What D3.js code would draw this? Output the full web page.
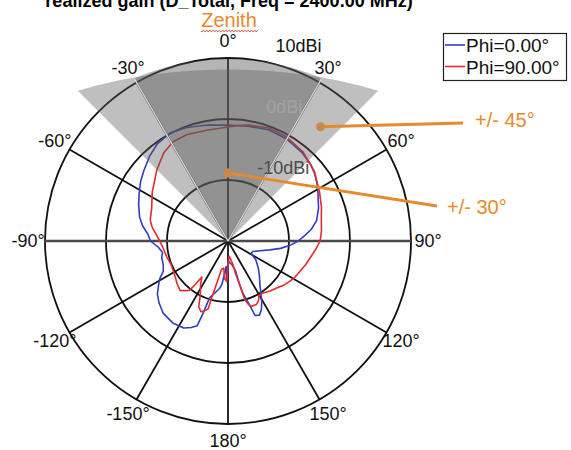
<!DOCTYPE html>
<html><head><meta charset="utf-8">
<script src="https://cdn.jsdelivr.net/npm/d3@7"></script>
<style>html,body{margin:0;padding:0;background:#fff;}svg{display:block;font-family:"Liberation Sans",Arial,sans-serif;}</style>
</head><body><div id="chart"></div>
<script>
// ---- data ----
const titleText = "realized gain (D_Total, Freq = 2400.00 MHz)";
const seriesNames = ["Phi=0.00°", "Phi=90.00°"];
const seriesColors = ["#2f3fc0", "#e52a2e"];
const ringValues = [-10, 0, 10];
const ringLabels = ["-10dBi", "0dBi", "10dBi"];
const angleTicks = [0, 30, 60, 90, 120, 150, 180, -150, -120, -90, -60, -30];
const angleLabels = ["0°","30°","60°","90°","120°","150°","180°","-150°","-120°","-90°","-60°","-30°"];

const thetaBlue = [-180,-178,-176,-172,-170,-165,-162,-161,-160,-157,-153,-146,-138,-132,-127,-122,-119,-115,-110,-104,-100,-95,-90,-85,-80,-75,-68,-62,-56,-50,-43,-36,-28,-20,-10,0,10,20,30,40,47,52,57,62,70,77,82,86,90,94,98,102,107,113,118,124,132,138,144,148,151,154,157,160,161,162,164,165,166,170,175,180];
const gainBlue  = [-16.8,-13.5,-15.8,-12.8,-12.1,-11.0,-10.2,-7.5,-5.2,-4.6,-4.0,-3.8,-4.1,-4.8,-5.5,-6.6,-7.2,-8.3,-8.7,-8.8,-9.1,-8.5,-7.3,-6.8,-5.8,-5.0,-4.2,-3.5,-2.7,-2.0,-1.1,-0.3,0.1,-0.2,-0.7,-1.0,-0.9,-0.6,-0.7,-1.1,-1.5,-2.0,-2.6,-3.3,-4.2,-5.1,-6.2,-7.4,-8.5,-9.8,-11.3,-13.0,-14.5,-15.6,-15.7,-14.5,-13.3,-12.3,-11.1,-9.8,-8.6,-7.5,-6.8,-7.0,-8.5,-9.6,-11.0,-12.5,-15.0,-16.0,-16.4,-16.8];

const thetaRed = [-180,-178.5,-175,-171,-167,-165,-164,-163.7,-161,-159,-156,-153,-148,-144,-143,-142,-136,-130,-125,-118,-112,-104,-96,-90,-85,-80,-75,-67,-57,-45,-36,-29,-21,-11,-5,0,5,10,20,29,40,51,62,70,77,84,90,95,100,107,113,118,123,128,134,140,146,150,153,156,160,162,164,165,167,168,172,176,180];
const gainRed  = [-16.0,-13.3,-13.8,-15.5,-15.2,-12.6,-10.2,-8.4,-7.8,-7.6,-8.2,-10.0,-11.5,-12.7,-11.0,-9.7,-8.7,-9.1,-9.5,-9.8,-9.9,-9.6,-9.3,-8.8,-8.2,-7.4,-6.8,-6.4,-5.2,-3.5,-2.1,-1.4,-1.3,-1.5,-1.5,-1.3,-1.0,-0.7,-0.3,-0.4,-0.9,-1.8,-3.0,-3.7,-4.3,-4.6,-4.9,-5.5,-6.1,-6.7,-7.2,-7.5,-7.9,-8.3,-8.9,-9.3,-9.7,-9.8,-9.0,-8.6,-8.6,-9.0,-10.0,-12.5,-14.5,-16.0,-17.0,-17.5,-16.0];

// annotation sectors (half-angle in degrees)
const sectorOuter = 45, sectorInner = 30;
const annot45 = {label: "+/- 45°", theta: 39, gain: 4.1};
const annot30 = {label: "+/- 30°", theta: 0, gain: -8.85};

// ---- layout ----
const W = 571, H = 450, cx = 228, cy = 241, R = 183;
const svg = d3.select("#chart").append("svg").attr("width", W).attr("height", H);
svg.append("rect").attr("width", W).attr("height", H).attr("fill", "#fff");
const rScale = d3.scaleLinear().domain([-20, 10]).range([0, R]);
const rad = d => d * Math.PI / 180;
const px = (t, r) => cx + r * Math.sin(rad(t));
const py = (t, r) => cy - r * Math.cos(rad(t));
const g = svg.append("g").attr("transform", `translate(${cx},${cy})`);

// rings
g.selectAll("circle.ring").data(ringValues).join("circle")
  .attr("r", d => rScale(d)).attr("fill", "none").attr("stroke", "#111").attr("stroke-width", 1.8);
// spokes
g.selectAll("line.spoke").data(angleTicks.filter(a => a !== 90 && a !== -90)).join("line")
  .attr("x1", 0).attr("y1", 0)
  .attr("x2", d => R * Math.sin(rad(d))).attr("y2", d => -R * Math.cos(rad(d)))
  .attr("stroke", "#111").attr("stroke-width", 1.8);
g.append("line").attr("x1", -R).attr("x2", R).attr("y1", 0).attr("y2", 0)
  .attr("stroke", "#4a4a4a").attr("stroke-width", 2.6);

// curves
const radial = d3.lineRadial().curve(d3.curveLinear);
[[thetaBlue, gainBlue], [thetaRed, gainRed]].forEach(([th, gn], i) => {
  const pts = th.map((t, k) => [rad(t), rScale(gn[k])]);
  g.append("path").attr("d", radial(pts)).attr("fill", "none")
    .attr("stroke", seriesColors[i]).attr("stroke-width", 1.6).attr("stroke-linejoin", "round");
});

// elliptical sector generator
function sectorPath(half, a, b) {
  const pts = [[0, 0]];
  d3.range(-half, half + 0.01, 1).forEach(t => {
    const s = Math.sin(rad(t)), c = Math.cos(rad(t));
    const r = 1 / Math.sqrt(s * s / (a * a) + c * c / (b * b));
    pts.push([r * s, -r * c]);
  });
  return d3.line()(pts) + "Z";
}
// light sector
g.append("path").attr("d", sectorPath(sectorOuter, R * 1.70, R * 0.937))
  .attr("fill", "#5f5f5f").attr("fill-opacity", 0.4);

// orange annotations
const orange = "#e8892c";
function annotation(a, tx, ty, lx, ly) {
  const x0 = px(a.theta, rScale(a.gain)), y0 = py(a.theta, rScale(a.gain));
  svg.append("line").attr("x1", x0).attr("y1", y0).attr("x2", lx).attr("y2", ly)
    .attr("stroke", orange).attr("stroke-width", 2.8);
  svg.append("circle").attr("cx", x0).attr("cy", y0).attr("r", 4.5).attr("fill", "#c98a48");
}
annotation(annot45, 0, 0, 463, 123);
annotation(annot30, 0, 0, 437, 206);

// dark sector
g.append("path").attr("d", sectorPath(sectorInner, R * 1.13, R * 0.995))
  .attr("fill", "#5a5a5a").attr("fill-opacity", 0.45);
[-sectorInner, sectorInner].forEach(t => {
  const s = Math.sin(rad(t)), c = Math.cos(rad(t));
  const a = R * 1.13, b = R * 0.995;
  const r = 1 / Math.sqrt(s * s / (a * a) + c * c / (b * b));
  g.append("line").attr("x1", 0).attr("y1", 0).attr("x2", r * s).attr("y2", -r * c)
    .attr("stroke", "#d8d8d8").attr("stroke-width", 1.4);
});

// annotation texts
svg.append("text").attr("x", 475).attr("y", 127).text(annot45.label)
  .attr("fill", orange).attr("font-size", 20);
svg.append("text").attr("x", 447).attr("y", 214).text(annot30.label)
  .attr("fill", orange).attr("font-size", 20);

// ring labels
const ringLabelColors = ["#4d4d4d", "#a3a3a3", "#111"];
ringValues.forEach((v, i) => {
  svg.append("text").attr("x", cx + rScale(v) * 0.15 + 20).attr("y", cy - rScale(v) - 6)
    .text(ringLabels[i]).attr("fill", ringLabelColors[i]).attr("font-size", 18);
});

// angle labels
svg.selectAll("text.ang").data(angleTicks).join("text")
  .attr("x", d => px(d, R + 17)).attr("y", d => py(d, R + 17))
  .attr("text-anchor", "middle").attr("dominant-baseline", "central")
  .attr("font-size", 18).attr("fill", "#111")
  .text((d, i) => angleLabels[i]);

// title (cropped at top)
svg.append("text").attr("x", 229).attr("y", 7).attr("text-anchor", "middle")
  .attr("font-weight", "bold").attr("font-size", 18).text(titleText);

// Zenith
svg.append("text").attr("x", 229).attr("y", 27).attr("text-anchor", "middle")
  .attr("fill", orange).attr("font-size", 20).text("Zenith");
const wave = d3.range(201, 258.5, 1).map(x => [x, 31 + 1.1 * Math.sin((x - 201) * Math.PI / 1.6)]);
svg.append("path").attr("d", d3.line()(wave)).attr("fill", "none").attr("stroke", "#d9534f").attr("stroke-width", 0.9);

// legend
svg.append("rect").attr("x", 443.5).attr("y", 33.5).attr("width", 123).attr("height", 47)
  .attr("fill", "#fff").attr("stroke", "#222").attr("stroke-width", 1.2);
seriesNames.forEach((n, i) => {
  const y = 45 + i * 21.5;
  svg.append("line").attr("x1", 445).attr("x2", 465).attr("y1", y).attr("y2", y)
    .attr("stroke", seriesColors[i]).attr("stroke-width", 1.6);
  svg.append("text").attr("x", 466).attr("y", y + 7).attr("font-size", 19).attr("fill", "#111").text(n);
});
</script></body></html>
